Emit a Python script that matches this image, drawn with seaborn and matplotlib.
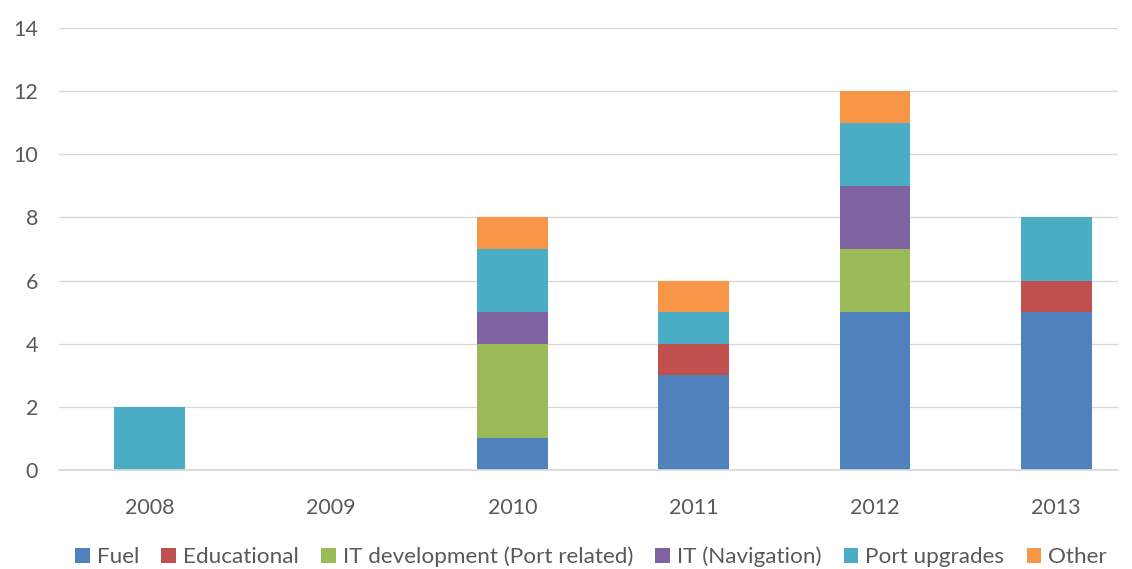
import numpy as np
import pandas as pd
import matplotlib
matplotlib.use("Agg")
import matplotlib.pyplot as plt
import seaborn as sns

years = ["2008", "2009", "2010", "2011", "2012", "2013"]
fuel = [0, 0, 1, 3, 5, 5]
educational = [0, 0, 0, 1, 0, 1]
it_development = [0, 0, 3, 0, 2, 0]
it_navigation = [0, 0, 1, 0, 2, 0]
port_upgrades = [2, 0, 2, 1, 2, 2]
other = [0, 0, 1, 1, 1, 0]

series_names = ["Fuel", "Educational", "IT development (Port related)",
                "IT (Navigation)", "Port upgrades", "Other"]
series_values = [fuel, educational, it_development, it_navigation,
                 port_upgrades, other]
colors = ["#4F81BD", "#C0504D", "#9BBB59", "#8064A2", "#4BACC6", "#F79646"]

sns.set_theme(style="white")
plt.rcParams["font.family"] = ["Lato", "DejaVu Sans"]

fig = plt.figure(figsize=(11.32, 5.69), dpi=100)
ax = fig.add_axes([0.0521, 0.174, 0.9355, 0.7768])

bottom = np.zeros(len(years))
for name, vals, col in zip(series_names, series_values, colors):
    df = pd.DataFrame({"year": years, "value": vals})
    sns.barplot(data=df, x="year", y="value", color=col, bottom=bottom,
                width=0.39, ax=ax, label=name, saturation=1, errorbar=None,
                linewidth=0)
    bottom = bottom + np.array(vals)

if ax.get_legend() is not None:
    ax.get_legend().remove()

ax.set_ylim(0, 14)
ax.set_xlim(-0.5, 5.34)
ax.set_yticks(range(0, 15, 2))
ax.yaxis.grid(True, color="#D9D9D9", linewidth=1)
ax.set_axisbelow(True)
for s in ["top", "right", "left"]:
    ax.spines[s].set_visible(False)
ax.spines["bottom"].set_color("#D9D9D9")
ax.set_xlabel("")
ax.set_ylabel("")
ax.tick_params(axis="both", length=0, labelsize=15.5, labelcolor="#595959")
ax.tick_params(axis="y", pad=15)
ax.tick_params(axis="x", pad=20)

handles, labels = ax.get_legend_handles_labels()
leg = fig.legend(handles, labels, loc="center", bbox_to_anchor=(0.522, 0.021),
                 ncol=6, frameon=False, fontsize=16.2, handlelength=0.65,
                 handleheight=0.65, handletextpad=0.3, columnspacing=1.0)
for t in leg.get_texts():
    t.set_color("#595959")

fig.savefig("out.png", dpi=100)
